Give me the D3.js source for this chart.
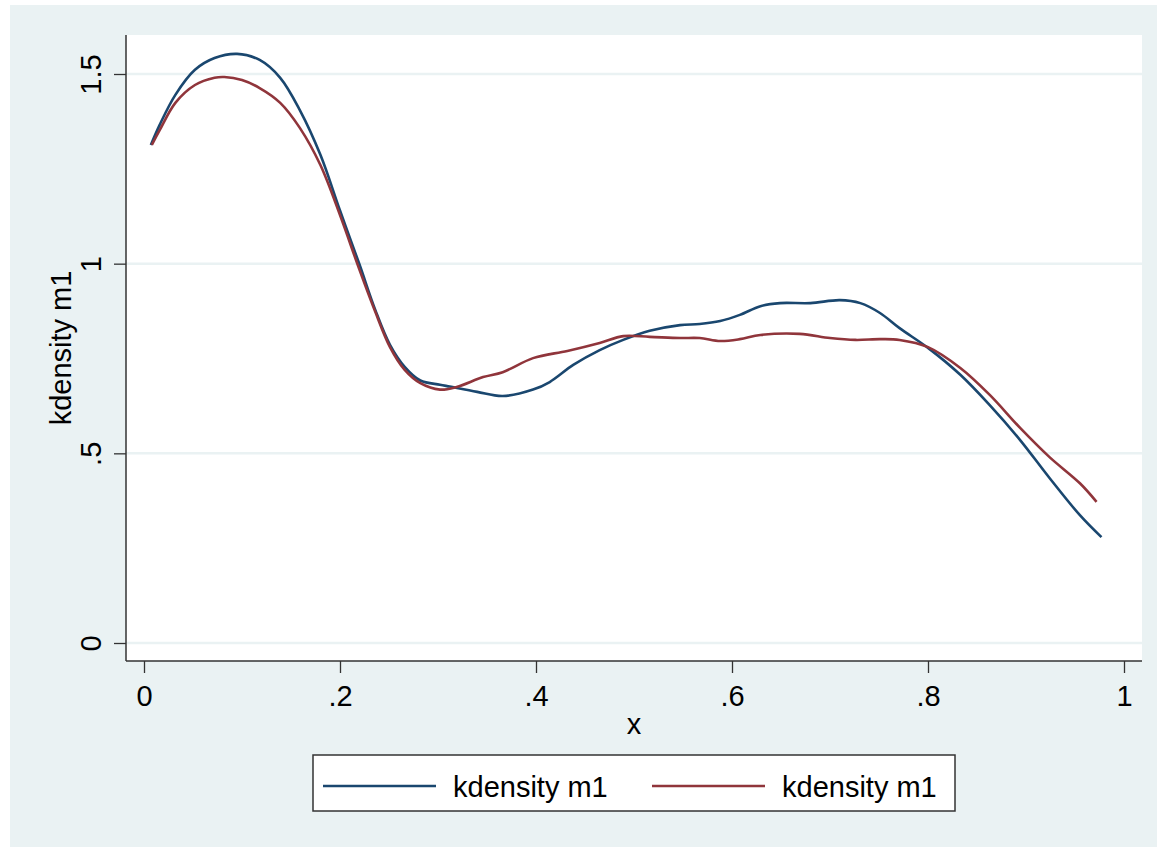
<!DOCTYPE html>
<html>
<head>
<meta charset="utf-8">
<script src="https://cdn.jsdelivr.net/npm/d3@7"></script>
<style>
  body { margin: 0; background: white; }
  text { font-family: 'Liberation Sans', Arial, sans-serif; fill: black; }
</style>
</head>
<body>
<script>
'use strict'

let blueX = [0.007, 0.016, 0.032, 0.052, 0.072, 0.095, 0.118, 0.139, 0.159, 0.18, 0.2, 0.22, 0.236, 0.251, 0.266, 0.282, 0.302,
    0.312, 0.34, 0.366, 0.397, 0.414, 0.438, 0.465, 0.489, 0.516, 0.547, 0.567, 0.588, 0.608, 0.629, 0.649, 0.68, 0.71, 0.731,
    0.751, 0.771, 0.8, 0.833, 0.863, 0.894, 0.924, 0.955, 0.977]
let blueY = [1.313, 1.366, 1.445, 1.511, 1.542, 1.553, 1.537, 1.49, 1.405, 1.287, 1.14, 0.997, 0.878, 0.786, 0.728, 0.692, 0.681,
    0.676, 0.662, 0.651, 0.668, 0.688, 0.733, 0.772, 0.799, 0.823, 0.838, 0.841, 0.849, 0.865, 0.888, 0.896, 0.896, 0.904, 0.896,
    0.87, 0.83, 0.778, 0.707, 0.627, 0.535, 0.435, 0.337, 0.279]

let redX = [0.008, 0.016, 0.032, 0.052, 0.072, 0.082, 0.1, 0.118, 0.139, 0.159, 0.18, 0.2, 0.22, 0.236, 0.251, 0.266, 0.282, 0.302,
    0.319, 0.346, 0.366, 0.397, 0.432, 0.465, 0.489, 0.516, 0.547, 0.567, 0.588, 0.608, 0.629, 0.669, 0.7, 0.726, 0.751, 0.771,
    0.8, 0.833, 0.863, 0.894, 0.924, 0.955, 0.972]
let redY = [1.313, 1.352, 1.424, 1.471, 1.49, 1.492, 1.484, 1.463, 1.424, 1.358, 1.26, 1.128, 0.983, 0.873, 0.78, 0.72, 0.685, 0.668,
    0.675, 0.701, 0.714, 0.751, 0.77, 0.791, 0.809, 0.807, 0.804, 0.804, 0.796, 0.801, 0.812, 0.815, 0.804, 0.799, 0.801, 0.799,
    0.78, 0.725, 0.654, 0.567, 0.49, 0.421, 0.372]

let xTicks = [0, 0.2, 0.4, 0.6, 0.8, 1],
    xTickLabels = ['0', '.2', '.4', '.6', '.8', '1'],
    yTicks = [0, 0.5, 1, 1.5],
    yTickLabels = ['0', '.5', '1', '1.5']

let seriesNames = ['kdensity m1', 'kdensity m1'],
    seriesColors = ['#1a476f', '#90353b']

let width = 1157,
    height = 847,
    plotLeft = 126,
    plotRight = 1142,
    plotTop = 35,
    plotBottom = 661,
    fontSize = 29

let svg = d3.select('body').append('svg')
    .attr('width', width)
    .attr('height', height)

// outer graph region
svg.append('rect')
    .attr('x', 10)
    .attr('y', 5)
    .attr('width', width - 10)
    .attr('height', height - 5)
    .attr('fill', '#eaf2f3')

svg.append('rect')
    .attr('x', plotLeft)
    .attr('y', plotTop)
    .attr('width', plotRight - plotLeft)
    .attr('height', plotBottom - plotTop)
    .attr('fill', 'white')

let x = d3.scaleLinear()
    .domain([0, 1])
    .range([144, 1124])

let y = d3.scaleLinear()
    .domain([0, 1.5])
    .range([643, 74])

// gridlines
svg.selectAll('.grid').data(yTicks).enter()
    .append('line')
    .attr('class', 'grid')
    .attr('x1', plotLeft)
    .attr('x2', plotRight)
    .attr('y1', d => y(d))
    .attr('y2', d => y(d))
    .attr('stroke', '#eaf2f3')
    .attr('stroke-width', 2.5)

// y axis
let yAxis = svg.append('g')
    .attr('transform', 'translate(' + plotLeft + ',0)')
    .call(d3.axisLeft(y).tickValues(yTicks).tickSize(12).tickFormat((d, i) => yTickLabels[i]))
yAxis.select('.domain')
    .attr('d', 'M0,' + plotTop + 'V' + plotBottom)
    .attr('stroke', '#333')
    .attr('stroke-width', 1.5)
yAxis.selectAll('.tick line').attr('stroke', '#333').attr('stroke-width', 1.3)
yAxis.selectAll('.tick text')
    .attr('x', null)
    .attr('dy', null)
    .attr('transform', 'translate(-25,0) rotate(-90)')
    .attr('text-anchor', 'middle')
    .style('font-size', fontSize + 'px')
    .style('font-family', null)

// x axis
let xAxis = svg.append('g')
    .attr('transform', 'translate(0,' + plotBottom + ')')
    .call(d3.axisBottom(x).tickValues(xTicks).tickSize(12).tickFormat((d, i) => xTickLabels[i]))
xAxis.select('.domain')
    .attr('d', 'M' + plotLeft + ',0H' + plotRight)
    .attr('stroke', '#333')
    .attr('stroke-width', 1.5)
xAxis.selectAll('.tick line').attr('stroke', '#333').attr('stroke-width', 1.3)
xAxis.selectAll('.tick text')
    .attr('y', 45)
    .attr('dy', null)
    .style('font-size', fontSize + 'px')
    .style('font-family', null)
svg.selectAll('.domain').attr('fill', 'none')
svg.selectAll('g').attr('font-size', null).attr('font-family', null)

// axis titles
svg.append('text')
    .attr('transform', 'translate(71,' + (plotTop + plotBottom) / 2 + ') rotate(-90)')
    .attr('text-anchor', 'middle')
    .style('font-size', fontSize + 'px')
    .text('kdensity m1')

svg.append('text')
    .attr('x', 634)
    .attr('y', 734)
    .attr('text-anchor', 'middle')
    .style('font-size', fontSize + 'px')
    .text('x')

// curves
let line = d3.line()
    .x(d => x(d[0]))
    .y(d => y(d[1]))
    .curve(d3.curveCatmullRom)

let series = [d3.zip(blueX, blueY), d3.zip(redX, redY)]

svg.selectAll('.curve').data(series).enter()
    .append('path')
    .attr('class', 'curve')
    .attr('d', d => line(d))
    .attr('fill', 'none')
    .attr('stroke', (d, i) => seriesColors[i])
    .attr('stroke-width', 2.6)
    .attr('stroke-linejoin', 'round')

// legend
svg.append('rect')
    .attr('x', 313)
    .attr('y', 755)
    .attr('width', 642)
    .attr('height', 56)
    .attr('fill', 'white')
    .attr('stroke', '#333')
    .attr('stroke-width', 1.5)

let legendItems = svg.selectAll('.legend').data(seriesNames).enter()
    .append('g')
    .attr('class', 'legend')
    .attr('transform', (d, i) => 'translate(' + (323 + i * 329) + ',786)')

legendItems.append('line')
    .attr('x1', 0)
    .attr('x2', 113)
    .attr('stroke', (d, i) => seriesColors[i])
    .attr('stroke-width', 2.6)

legendItems.append('text')
    .attr('x', 130)
    .attr('y', 11)
    .style('font-size', fontSize + 'px')
    .text(d => d)
</script>
</body>
</html>
